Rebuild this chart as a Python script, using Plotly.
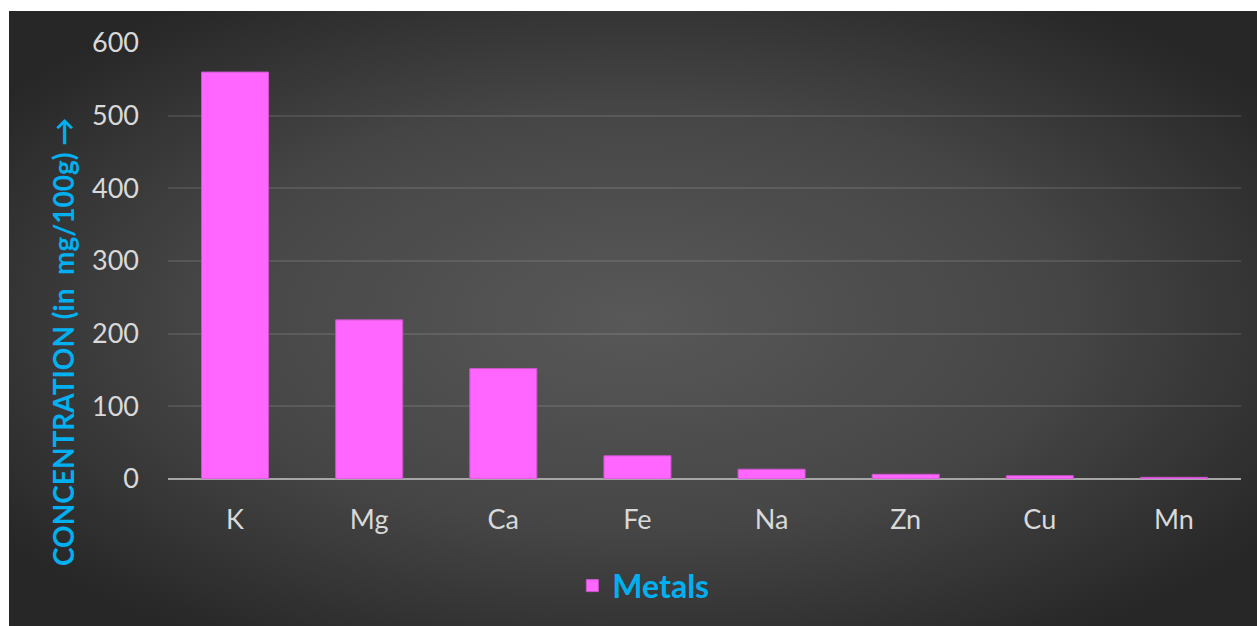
import base64
import plotly.graph_objects as go

metals = ["K", "Mg", "Ca", "Fe", "Na", "Zn", "Cu", "Mn"]
concentration = [560, 219, 152, 32, 13.5, 6.5, 4.5, 2.3]
y_ticks = [0, 100, 200, 300, 400, 500, 600]
series_name = "Metals"
y_title = "CONCENTRATION (in\u00a0 mg/100g) \u2192"

W, H = 1257, 626
L, R, T, B = 168, 16, 43, 147
pw, ph = W - L - R, H - T - B

svg = (
    '<svg xmlns="http://www.w3.org/2000/svg" width="1248" height="615" '
    'viewBox="0 0 1248 615" preserveAspectRatio="none">'
    '<defs><radialGradient id="g" cx="0.5" cy="0.5" r="0.62" fx="0.5" fy="0.5">'
    '<stop offset="0" stop-color="#585858"/>'
    '<stop offset="0.55" stop-color="#464646"/>'
    '<stop offset="1" stop-color="#272727"/>'
    '</radialGradient></defs>'
    '<rect x="0" y="0" width="1248" height="615" fill="url(#g)"/></svg>'
)
src = "data:image/svg+xml;base64," + base64.b64encode(svg.encode()).decode()

fig = go.Figure()
fig.add_trace(go.Bar(
    x=metals, y=concentration, name=series_name,
    marker=dict(color="#FF66FF", line=dict(color="#C855C8", width=1)),
    showlegend=True,
))

fig.add_layout_image(dict(
    source=src, xref="paper", yref="paper",
    x=(9 - L) / pw, y=(H - B - 11) / ph,
    sizex=1248 / pw, sizey=615 / ph,
    sizing="stretch", xanchor="left", yanchor="top", layer="below",
))

fig.add_annotation(
    text=y_title, textangle=-90, showarrow=False,
    xref="paper", yref="paper",
    x=(63 - L) / pw, y=(H - B - 342) / ph,
    xanchor="center", yanchor="middle",
    font=dict(family="Lato", size=28, color="#00B0F0", weight="bold"),
)

fig.update_layout(
    width=W, height=H,
    margin=dict(l=L, r=R, t=T, b=B, pad=0),
    paper_bgcolor="white", plot_bgcolor="rgba(0,0,0,0)",
    bargap=0.5,
    font=dict(family="Lato", color="#D9D9D9"),
    showlegend=True,
    legend=dict(
        orientation="h", x=0.443, xanchor="center", y=-0.245, yanchor="middle",
        font=dict(family="Lato", size=32, color="#00B0F0", weight="bold"),
        bgcolor="rgba(0,0,0,0)",
    ),
    xaxis=dict(
        showgrid=False, showline=False, zeroline=False,
        tickfont=dict(family="Lato", size=27, color="#D9D9D9"),
        ticks="", ticklabelstandoff=22,
    ),
    yaxis=dict(
        range=[0, 600], tickvals=y_ticks,
        showgrid=True, gridcolor="rgba(255,255,255,0.1)", gridwidth=2,
        zeroline=True, zerolinecolor="#A6A6A6", zerolinewidth=2,
        showline=False, ticks="",
        tickfont=dict(family="Lato", size=27, color="#D9D9D9"),
        ticklabelstandoff=28,
    ),
)

fig.write_html("out.html")
